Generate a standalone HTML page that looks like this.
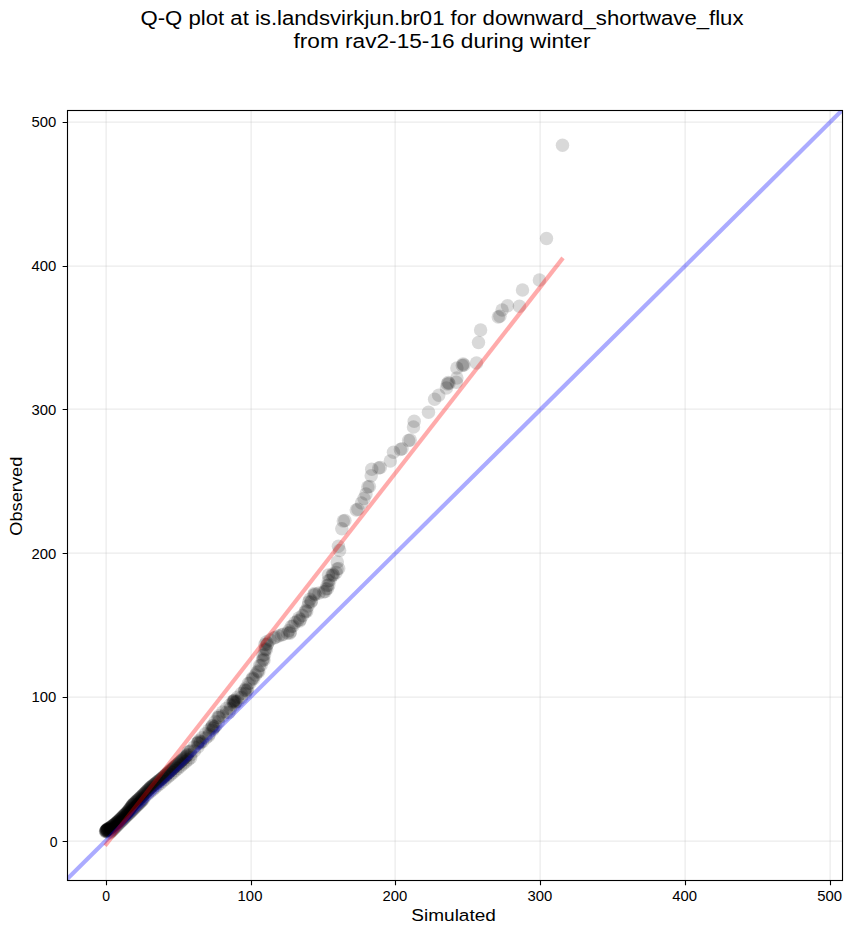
<!DOCTYPE html><html><head><meta charset="utf-8"><style>html,body{margin:0;padding:0;background:#fff;width:852px;height:934px;overflow:hidden}svg{display:block}text{font-family:"Liberation Sans",sans-serif;fill:#000}</style></head><body>
<svg width="852" height="934" viewBox="0 0 852 934">
<rect width="852" height="934" fill="#fff"/>
<text x="442" y="24.6" font-size="19.6" text-anchor="middle" textLength="603" lengthAdjust="spacingAndGlyphs">Q-Q plot at is.landsvirkjun.br01 for downward_shortwave_flux</text>
<text x="442" y="47.9" font-size="19.6" text-anchor="middle" textLength="297" lengthAdjust="spacingAndGlyphs">from rav2-15-16 during winter</text>
<g stroke="#b0b0b0" stroke-opacity="0.27" stroke-width="1.2" fill="none"><path d="M106.10 110.5V880.5"/><path d="M67.5 841.10H842.5"/><path d="M251.10 110.5V880.5"/><path d="M67.5 697.10H842.5"/><path d="M395.10 110.5V880.5"/><path d="M67.5 553.10H842.5"/><path d="M540.10 110.5V880.5"/><path d="M67.5 409.10H842.5"/><path d="M685.10 110.5V880.5"/><path d="M67.5 266.10H842.5"/><path d="M830.10 110.5V880.5"/><path d="M67.5 122.10H842.5"/></g>
<clipPath id="ax"><rect x="67.5" y="110.5" width="775.0" height="770.0"/></clipPath>
<g clip-path="url(#ax)" fill="#000" fill-opacity="0.15"><circle cx="105.5" cy="831.5" r="6.75"/><circle cx="105.8" cy="831.2" r="6.75"/><circle cx="106.0" cy="830.9" r="6.75"/><circle cx="106.2" cy="830.6" r="6.75"/><circle cx="106.5" cy="830.3" r="6.75"/><circle cx="106.8" cy="830.0" r="6.75"/><circle cx="107.0" cy="829.7" r="6.75"/><circle cx="107.2" cy="829.4" r="6.75"/><circle cx="107.5" cy="829.1" r="6.75"/><circle cx="107.8" cy="828.8" r="6.75"/><circle cx="106.0" cy="831.0" r="6.75"/><circle cx="106.4" cy="830.7" r="6.75"/><circle cx="106.8" cy="830.4" r="6.75"/><circle cx="107.2" cy="830.1" r="6.75"/><circle cx="107.6" cy="829.7" r="6.75"/><circle cx="108.0" cy="829.4" r="6.75"/><circle cx="108.5" cy="829.1" r="6.75"/><circle cx="108.9" cy="828.8" r="6.75"/><circle cx="109.3" cy="828.4" r="6.75"/><circle cx="109.8" cy="828.1" r="6.75"/><circle cx="110.2" cy="827.7" r="6.75"/><circle cx="110.7" cy="827.4" r="6.75"/><circle cx="111.1" cy="827.0" r="6.75"/><circle cx="111.6" cy="826.7" r="6.75"/><circle cx="112.1" cy="826.3" r="6.75"/><circle cx="112.5" cy="825.9" r="6.75"/><circle cx="113.0" cy="825.5" r="6.75"/><circle cx="113.5" cy="825.2" r="6.75"/><circle cx="114.0" cy="824.8" r="6.75"/><circle cx="114.5" cy="824.4" r="6.75"/><circle cx="115.1" cy="824.0" r="6.75"/><circle cx="115.6" cy="823.6" r="6.75"/><circle cx="116.1" cy="823.2" r="6.75"/><circle cx="116.6" cy="822.7" r="6.75"/><circle cx="117.2" cy="822.3" r="6.75"/><circle cx="117.2" cy="822.3" r="6.75"/><circle cx="117.7" cy="821.8" r="6.75"/><circle cx="118.2" cy="821.3" r="6.75"/><circle cx="118.7" cy="820.8" r="6.75"/><circle cx="119.2" cy="820.3" r="6.75"/><circle cx="119.7" cy="819.8" r="6.75"/><circle cx="120.2" cy="819.3" r="6.75"/><circle cx="120.7" cy="818.8" r="6.75"/><circle cx="121.3" cy="818.2" r="6.75"/><circle cx="121.8" cy="817.7" r="6.75"/><circle cx="122.3" cy="817.2" r="6.75"/><circle cx="122.8" cy="816.7" r="6.75"/><circle cx="123.4" cy="816.1" r="6.75"/><circle cx="123.9" cy="815.6" r="6.75"/><circle cx="124.4" cy="815.1" r="6.75"/><circle cx="125.0" cy="814.5" r="6.75"/><circle cx="125.5" cy="814.0" r="6.75"/><circle cx="126.1" cy="813.4" r="6.75"/><circle cx="126.6" cy="812.9" r="6.75"/><circle cx="127.2" cy="812.3" r="6.75"/><circle cx="127.6" cy="811.9" r="6.75"/><circle cx="128.1" cy="811.3" r="6.75"/><circle cx="128.5" cy="810.6" r="6.75"/><circle cx="129.0" cy="810.0" r="6.75"/><circle cx="129.5" cy="809.3" r="6.75"/><circle cx="130.0" cy="808.7" r="6.75"/><circle cx="130.4" cy="808.0" r="6.75"/><circle cx="130.9" cy="807.4" r="6.75"/><circle cx="131.4" cy="806.7" r="6.75"/><circle cx="131.8" cy="806.1" r="6.75"/><circle cx="132.3" cy="805.4" r="6.75"/><circle cx="132.8" cy="804.8" r="6.75"/><circle cx="133.0" cy="804.5" r="6.75"/><circle cx="133.6" cy="804.0" r="6.75"/><circle cx="134.2" cy="803.4" r="6.75"/><circle cx="134.8" cy="802.8" r="6.75"/><circle cx="135.4" cy="802.3" r="6.75"/><circle cx="136.0" cy="801.7" r="6.75"/><circle cx="136.6" cy="801.1" r="6.75"/><circle cx="137.2" cy="800.6" r="6.75"/><circle cx="137.8" cy="800.0" r="6.75"/><circle cx="138.4" cy="799.4" r="6.75"/><circle cx="139.1" cy="798.8" r="6.75"/><circle cx="139.7" cy="798.2" r="6.75"/><circle cx="140.4" cy="797.6" r="6.75"/><circle cx="141.0" cy="797.0" r="6.75"/><circle cx="141.6" cy="796.4" r="6.75"/><circle cx="142.3" cy="795.7" r="6.75"/><circle cx="142.9" cy="795.1" r="6.75"/><circle cx="143.5" cy="794.5" r="6.75"/><circle cx="144.2" cy="793.8" r="6.75"/><circle cx="144.8" cy="793.2" r="6.75"/><circle cx="145.5" cy="792.5" r="6.75"/><circle cx="146.1" cy="791.9" r="6.75"/><circle cx="146.7" cy="791.3" r="6.75"/><circle cx="147.4" cy="790.6" r="6.75"/><circle cx="148.0" cy="790.0" r="6.75"/><circle cx="148.6" cy="789.4" r="6.75"/><circle cx="149.3" cy="788.7" r="6.75"/><circle cx="149.9" cy="788.1" r="6.75"/><circle cx="150.5" cy="787.5" r="6.75"/><circle cx="151.0" cy="787.0" r="6.75"/><circle cx="151.7" cy="786.4" r="6.75"/><circle cx="152.4" cy="785.9" r="6.75"/><circle cx="153.1" cy="785.3" r="6.75"/><circle cx="153.8" cy="784.7" r="6.75"/><circle cx="154.6" cy="784.2" r="6.75"/><circle cx="155.3" cy="783.6" r="6.75"/><circle cx="156.0" cy="783.0" r="6.75"/><circle cx="156.7" cy="782.4" r="6.75"/><circle cx="157.5" cy="781.8" r="6.75"/><circle cx="158.2" cy="781.2" r="6.75"/><circle cx="159.0" cy="780.6" r="6.75"/><circle cx="159.7" cy="780.0" r="6.75"/><circle cx="160.5" cy="779.4" r="6.75"/><circle cx="161.2" cy="778.8" r="6.75"/><circle cx="162.0" cy="778.2" r="6.75"/><circle cx="162.8" cy="777.6" r="6.75"/><circle cx="163.5" cy="777.0" r="6.75"/><circle cx="164.2" cy="776.3" r="6.75"/><circle cx="165.0" cy="775.6" r="6.75"/><circle cx="165.7" cy="775.0" r="6.75"/><circle cx="166.5" cy="774.3" r="6.75"/><circle cx="167.2" cy="773.6" r="6.75"/><circle cx="168.0" cy="772.9" r="6.75"/><circle cx="168.7" cy="772.2" r="6.75"/><circle cx="169.5" cy="771.5" r="6.75"/><circle cx="170.3" cy="770.8" r="6.75"/><circle cx="171.0" cy="770.1" r="6.75"/><circle cx="171.8" cy="769.4" r="6.75"/><circle cx="172.6" cy="768.7" r="6.75"/><circle cx="173.4" cy="768.0" r="6.75"/><circle cx="174.1" cy="767.3" r="6.75"/><circle cx="174.9" cy="766.6" r="6.75"/><circle cx="175.7" cy="765.9" r="6.75"/><circle cx="176.5" cy="765.1" r="6.75"/><circle cx="177.3" cy="764.4" r="6.75"/><circle cx="178.1" cy="763.7" r="6.75"/><circle cx="178.9" cy="763.0" r="6.75"/><circle cx="179.7" cy="762.2" r="6.75"/><circle cx="180.5" cy="761.5" r="6.75"/><circle cx="181.3" cy="760.8" r="6.75"/><circle cx="182.1" cy="760.0" r="6.75"/><circle cx="183.0" cy="759.2" r="6.75"/><circle cx="183.8" cy="758.4" r="6.75"/><circle cx="184.7" cy="757.6" r="6.75"/><circle cx="185.6" cy="756.8" r="6.75"/><circle cx="186.5" cy="755.9" r="6.75"/><circle cx="187.4" cy="755.1" r="6.75"/><circle cx="109.3" cy="833.3" r="6.75"/><circle cx="110.3" cy="832.3" r="6.75"/><circle cx="111.2" cy="831.4" r="6.75"/><circle cx="112.2" cy="830.4" r="6.75"/><circle cx="113.2" cy="829.4" r="6.75"/><circle cx="114.2" cy="828.4" r="6.75"/><circle cx="115.1" cy="827.5" r="6.75"/><circle cx="116.1" cy="826.5" r="6.75"/><circle cx="117.1" cy="825.5" r="6.75"/><circle cx="118.0" cy="824.6" r="6.75"/><circle cx="119.0" cy="823.6" r="6.75"/><circle cx="120.0" cy="822.6" r="6.75"/><circle cx="121.0" cy="821.6" r="6.75"/><circle cx="121.9" cy="820.7" r="6.75"/><circle cx="122.9" cy="819.7" r="6.75"/><circle cx="123.9" cy="818.7" r="6.75"/><circle cx="124.8" cy="817.8" r="6.75"/><circle cx="125.8" cy="816.8" r="6.75"/><circle cx="126.8" cy="815.8" r="6.75"/><circle cx="127.8" cy="814.8" r="6.75"/><circle cx="128.7" cy="813.9" r="6.75"/><circle cx="129.7" cy="812.9" r="6.75"/><circle cx="130.7" cy="811.9" r="6.75"/><circle cx="131.6" cy="811.0" r="6.75"/><circle cx="132.6" cy="810.0" r="6.75"/><circle cx="133.6" cy="809.0" r="6.75"/><circle cx="134.6" cy="808.0" r="6.75"/><circle cx="135.5" cy="807.1" r="6.75"/><circle cx="136.5" cy="806.1" r="6.75"/><circle cx="137.5" cy="805.1" r="6.75"/><circle cx="138.4" cy="804.2" r="6.75"/><circle cx="139.4" cy="803.2" r="6.75"/><circle cx="140.4" cy="802.2" r="6.75"/><circle cx="141.4" cy="801.2" r="6.75"/><circle cx="142.3" cy="800.3" r="6.75"/><circle cx="143.3" cy="799.3" r="6.75"/><circle cx="142.5" cy="798.5" r="6.75"/><circle cx="145.0" cy="796.4" r="6.75"/><circle cx="147.6" cy="794.2" r="6.75"/><circle cx="150.1" cy="792.1" r="6.75"/><circle cx="152.6" cy="789.9" r="6.75"/><circle cx="155.2" cy="787.8" r="6.75"/><circle cx="157.7" cy="785.6" r="6.75"/><circle cx="160.3" cy="783.5" r="6.75"/><circle cx="162.8" cy="781.3" r="6.75"/><circle cx="165.3" cy="779.2" r="6.75"/><circle cx="167.9" cy="777.0" r="6.75"/><circle cx="170.4" cy="774.9" r="6.75"/><circle cx="172.9" cy="772.7" r="6.75"/><circle cx="175.5" cy="770.6" r="6.75"/><circle cx="178.0" cy="768.4" r="6.75"/><circle cx="180.6" cy="766.3" r="6.75"/><circle cx="183.1" cy="764.1" r="6.75"/><circle cx="185.6" cy="762.0" r="6.75"/><circle cx="188.2" cy="759.8" r="6.75"/><circle cx="190.7" cy="757.7" r="6.75"/><circle cx="187.2" cy="754.7" r="6.75"/><circle cx="191.0" cy="754.8" r="6.75"/><circle cx="190.6" cy="750.8" r="6.75"/><circle cx="194.4" cy="750.9" r="6.75"/><circle cx="194.0" cy="746.9" r="6.75"/><circle cx="197.9" cy="747.0" r="6.75"/><circle cx="197.5" cy="743.0" r="6.75"/><circle cx="198.7" cy="741.7" r="6.75"/><circle cx="202.5" cy="741.8" r="6.75"/><circle cx="202.1" cy="737.7" r="6.75"/><circle cx="205.9" cy="737.9" r="6.75"/><circle cx="205.5" cy="733.8" r="6.75"/><circle cx="209.3" cy="734.0" r="6.75"/><circle cx="208.9" cy="729.9" r="6.75"/><circle cx="212.7" cy="730.0" r="6.75"/><circle cx="212.2" cy="726.2" r="6.75"/><circle cx="215.7" cy="726.1" r="6.75"/><circle cx="215.0" cy="721.8" r="6.75"/><circle cx="218.5" cy="721.7" r="6.75"/><circle cx="217.8" cy="717.4" r="6.75"/><circle cx="219.0" cy="715.7" r="6.75"/><circle cx="222.9" cy="716.0" r="6.75"/><circle cx="222.7" cy="712.0" r="6.75"/><circle cx="226.6" cy="712.3" r="6.75"/><circle cx="226.4" cy="708.4" r="6.75"/><circle cx="230.4" cy="708.7" r="6.75"/><circle cx="230.1" cy="704.7" r="6.75"/><circle cx="234.1" cy="705.0" r="6.75"/><circle cx="233.8" cy="701.1" r="6.75"/><circle cx="234.0" cy="701.0" r="6.75"/><circle cx="237.9" cy="701.2" r="6.75"/><circle cx="237.6" cy="697.2" r="6.75"/><circle cx="241.5" cy="697.4" r="6.75"/><circle cx="241.2" cy="693.4" r="6.75"/><circle cx="245.1" cy="693.7" r="6.75"/><circle cx="244.8" cy="689.7" r="6.75"/><circle cx="189.9" cy="751.5" r="6.75"/><circle cx="188.3" cy="752.1" r="6.75"/><circle cx="200.6" cy="742.0" r="6.75"/><circle cx="197.8" cy="743.1" r="6.75"/><circle cx="199.1" cy="740.4" r="6.75"/><circle cx="200.0" cy="743.3" r="6.75"/><circle cx="214.1" cy="727.0" r="6.75"/><circle cx="211.3" cy="728.1" r="6.75"/><circle cx="212.6" cy="725.4" r="6.75"/><circle cx="213.5" cy="728.3" r="6.75"/><circle cx="219.0" cy="717.5" r="6.75"/><circle cx="208.5" cy="736.0" r="6.75"/><circle cx="229.0" cy="712.5" r="6.75"/><circle cx="236.1" cy="701.5" r="6.75"/><circle cx="233.3" cy="702.6" r="6.75"/><circle cx="234.6" cy="699.9" r="6.75"/><circle cx="235.5" cy="702.8" r="6.75"/><circle cx="232.9" cy="701.2" r="6.75"/><circle cx="247.6" cy="689.5" r="6.75"/><circle cx="244.8" cy="690.6" r="6.75"/><circle cx="246.1" cy="687.9" r="6.75"/><circle cx="247.0" cy="690.8" r="6.75"/><circle cx="249.9" cy="683.0" r="6.75"/><circle cx="248.3" cy="683.6" r="6.75"/><circle cx="253.5" cy="678.7" r="6.75"/><circle cx="251.9" cy="679.3" r="6.75"/><circle cx="252.7" cy="677.8" r="6.75"/><circle cx="255.5" cy="675.0" r="6.75"/><circle cx="258.8" cy="671.7" r="6.75"/><circle cx="257.2" cy="672.3" r="6.75"/><circle cx="258.0" cy="670.8" r="6.75"/><circle cx="261.1" cy="665.2" r="6.75"/><circle cx="259.5" cy="665.8" r="6.75"/><circle cx="264.0" cy="660.0" r="6.75"/><circle cx="262.4" cy="660.6" r="6.75"/><circle cx="263.2" cy="659.1" r="6.75"/><circle cx="264.6" cy="654.7" r="6.75"/><circle cx="263.0" cy="655.3" r="6.75"/><circle cx="266.4" cy="649.4" r="6.75"/><circle cx="264.8" cy="650.0" r="6.75"/><circle cx="265.6" cy="648.5" r="6.75"/><circle cx="267.7" cy="643.5" r="6.75"/><circle cx="264.9" cy="644.6" r="6.75"/><circle cx="266.2" cy="641.9" r="6.75"/><circle cx="267.1" cy="644.8" r="6.75"/><circle cx="270.0" cy="640.0" r="6.75"/><circle cx="275.6" cy="637.3" r="6.75"/><circle cx="274.0" cy="637.9" r="6.75"/><circle cx="278.5" cy="636.0" r="6.75"/><circle cx="283.2" cy="634.3" r="6.75"/><circle cx="281.6" cy="634.9" r="6.75"/><circle cx="290.4" cy="632.0" r="6.75"/><circle cx="287.6" cy="633.1" r="6.75"/><circle cx="288.9" cy="630.4" r="6.75"/><circle cx="289.8" cy="633.3" r="6.75"/><circle cx="292.9" cy="626.0" r="6.75"/><circle cx="291.3" cy="626.6" r="6.75"/><circle cx="295.0" cy="622.5" r="6.75"/><circle cx="300.3" cy="619.6" r="6.75"/><circle cx="297.5" cy="620.7" r="6.75"/><circle cx="298.8" cy="618.0" r="6.75"/><circle cx="299.7" cy="620.9" r="6.75"/><circle cx="302.5" cy="615.5" r="6.75"/><circle cx="306.7" cy="611.4" r="6.75"/><circle cx="305.1" cy="612.0" r="6.75"/><circle cx="305.9" cy="610.5" r="6.75"/><circle cx="308.0" cy="606.0" r="6.75"/><circle cx="311.5" cy="600.9" r="6.75"/><circle cx="308.7" cy="602.0" r="6.75"/><circle cx="310.0" cy="599.3" r="6.75"/><circle cx="310.9" cy="602.2" r="6.75"/><circle cx="315.3" cy="594.5" r="6.75"/><circle cx="313.7" cy="595.1" r="6.75"/><circle cx="314.5" cy="593.6" r="6.75"/><circle cx="319.0" cy="593.0" r="6.75"/><circle cx="325.2" cy="591.4" r="6.75"/><circle cx="323.6" cy="592.0" r="6.75"/><circle cx="327.6" cy="588.4" r="6.75"/><circle cx="326.0" cy="589.0" r="6.75"/><circle cx="328.8" cy="584.9" r="6.75"/><circle cx="327.2" cy="585.5" r="6.75"/><circle cx="329.9" cy="580.2" r="6.75"/><circle cx="328.3" cy="580.8" r="6.75"/><circle cx="328.5" cy="574.9" r="6.75"/><circle cx="333.5" cy="574.9" r="6.75"/><circle cx="331.9" cy="575.5" r="6.75"/><circle cx="332.7" cy="574.0" r="6.75"/><circle cx="336.1" cy="572.6" r="6.75"/><circle cx="338.7" cy="568.5" r="6.75"/><circle cx="337.1" cy="569.1" r="6.75"/><circle cx="337.3" cy="562.0" r="6.75"/><circle cx="339.6" cy="550.6" r="6.75"/><circle cx="338.4" cy="546.2" r="6.75"/><circle cx="562.5" cy="145.3" r="6.75"/><circle cx="546.5" cy="238.4" r="6.75"/><circle cx="539.4" cy="280.1" r="6.75"/><circle cx="522.5" cy="290.0" r="6.75"/><circle cx="519.4" cy="306.2" r="6.75"/><circle cx="507.5" cy="305.8" r="6.75"/><circle cx="502.1" cy="310.0" r="6.75"/><circle cx="499.9" cy="316.3" r="6.75"/><circle cx="498.3" cy="316.9" r="6.75"/><circle cx="480.6" cy="330.0" r="6.75"/><circle cx="478.5" cy="342.5" r="6.75"/><circle cx="476.5" cy="362.9" r="6.75"/><circle cx="463.9" cy="364.9" r="6.75"/><circle cx="462.3" cy="365.5" r="6.75"/><circle cx="463.1" cy="364.0" r="6.75"/><circle cx="456.9" cy="367.9" r="6.75"/><circle cx="456.9" cy="378.1" r="6.75"/><circle cx="456.3" cy="382.3" r="6.75"/><circle cx="449.0" cy="383.4" r="6.75"/><circle cx="447.4" cy="384.0" r="6.75"/><circle cx="448.2" cy="382.5" r="6.75"/><circle cx="446.4" cy="388.1" r="6.75"/><circle cx="438.7" cy="395.2" r="6.75"/><circle cx="434.6" cy="399.3" r="6.75"/><circle cx="428.5" cy="412.2" r="6.75"/><circle cx="414.2" cy="421.3" r="6.75"/><circle cx="413.5" cy="427.1" r="6.75"/><circle cx="410.2" cy="440.0" r="6.75"/><circle cx="408.6" cy="440.6" r="6.75"/><circle cx="402.0" cy="448.8" r="6.75"/><circle cx="400.4" cy="449.4" r="6.75"/><circle cx="393.5" cy="452.3" r="6.75"/><circle cx="390.3" cy="461.1" r="6.75"/><circle cx="380.3" cy="467.5" r="6.75"/><circle cx="378.7" cy="468.1" r="6.75"/><circle cx="371.7" cy="469.3" r="6.75"/><circle cx="371.2" cy="475.8" r="6.75"/><circle cx="369.4" cy="486.5" r="6.75"/><circle cx="367.8" cy="487.1" r="6.75"/><circle cx="366.0" cy="494.0" r="6.75"/><circle cx="364.0" cy="498.5" r="6.75"/><circle cx="361.5" cy="503.0" r="6.75"/><circle cx="357.9" cy="509.3" r="6.75"/><circle cx="356.3" cy="509.9" r="6.75"/><circle cx="344.9" cy="520.5" r="6.75"/><circle cx="343.3" cy="521.1" r="6.75"/><circle cx="341.8" cy="528.7" r="6.75"/></g>
<g clip-path="url(#ax)"><path d="M62.63 883.52L852.34 100.09" stroke="#0000ff" stroke-opacity="0.33" stroke-width="4.17" fill="none"/>
<path d="M105.1 845.75L563.0 257.9" stroke="#ff0000" stroke-opacity="0.33" stroke-width="4.17" fill="none"/></g>
<rect x="67.5" y="110.5" width="775.00" height="770.00" fill="none" stroke="#000" stroke-width="1.11" stroke-linejoin="miter" stroke-linecap="square"/>
<path d="M106.50 880.5v4.86M67.5 841.50h-4.86M251.50 880.5v4.86M67.5 697.50h-4.86M395.50 880.5v4.86M67.5 553.50h-4.86M540.50 880.5v4.86M67.5 409.50h-4.86M685.50 880.5v4.86M67.5 266.50h-4.86M830.50 880.5v4.86M67.5 122.50h-4.86" stroke="#000" stroke-width="1.11" fill="none"/>
<text x="106.10" y="900.8" font-size="14" text-anchor="middle">0</text>
<text x="57.5" y="847.00" font-size="14" text-anchor="end">0</text>
<text x="250.00" y="900.8" font-size="14" text-anchor="middle" textLength="24.8" lengthAdjust="spacingAndGlyphs">100</text>
<text x="56.2" y="702.25" font-size="14" text-anchor="end" textLength="24.8" lengthAdjust="spacingAndGlyphs">100</text>
<text x="394.90" y="900.8" font-size="14" text-anchor="middle" textLength="24.8" lengthAdjust="spacingAndGlyphs">200</text>
<text x="56.2" y="558.50" font-size="14" text-anchor="end" textLength="24.8" lengthAdjust="spacingAndGlyphs">200</text>
<text x="539.80" y="900.8" font-size="14" text-anchor="middle" textLength="24.8" lengthAdjust="spacingAndGlyphs">300</text>
<text x="56.2" y="414.75" font-size="14" text-anchor="end" textLength="24.8" lengthAdjust="spacingAndGlyphs">300</text>
<text x="684.70" y="900.8" font-size="14" text-anchor="middle" textLength="24.8" lengthAdjust="spacingAndGlyphs">400</text>
<text x="56.2" y="270.80" font-size="14" text-anchor="end" textLength="24.8" lengthAdjust="spacingAndGlyphs">400</text>
<text x="829.60" y="900.8" font-size="14" text-anchor="middle" textLength="24.8" lengthAdjust="spacingAndGlyphs">500</text>
<text x="56.2" y="127.15" font-size="14" text-anchor="end" textLength="24.8" lengthAdjust="spacingAndGlyphs">500</text>
<text x="453.6" y="920.8" font-size="16.3" text-anchor="middle" textLength="84.5" lengthAdjust="spacingAndGlyphs">Simulated</text>
<text transform="translate(21.8 496.2) rotate(-90)" x="0" y="0" font-size="16.3" text-anchor="middle" textLength="79" lengthAdjust="spacingAndGlyphs">Observed</text>
</svg></body></html>
